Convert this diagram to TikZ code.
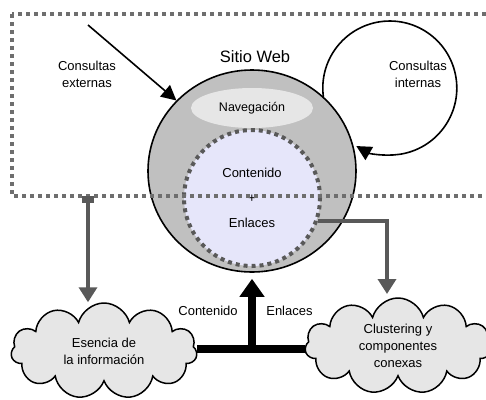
\documentclass[tikz,border=0pt]{standalone}
\usepackage{fontspec}
\setmainfont{Liberation Sans}
\usetikzlibrary{shapes.geometric,shapes.symbols,arrows.meta}

\definecolor{spheregray}{HTML}{C0C0C0}
\definecolor{navgray}{HTML}{E6E6E6}
\definecolor{lavender}{HTML}{E6E6FA}
\definecolor{darkline}{HTML}{595959}
\definecolor{dashgray}{HTML}{6E6E6E}

\begin{document}
\begin{tikzpicture}[x=1pt,y=-1pt,
    every node/.style={font=\fontsize{13}{17}\selectfont},
    cloudbox/.style={cloud,cloud puffs=11,aspect=2,draw,line width=1.5pt,fill=navgray,
      minimum width=186pt,minimum height=96pt,align=center,inner sep=0pt},
    grayarrow/.style={draw=darkline,line width=3.5pt,-{Triangle[width=18pt,length=15pt]}},
    blackarrow/.style={line width=1.6pt,-{Triangle[width=15pt,length=15pt]}}]
    \clip (0,0) rectangle (486,399);
    % sitio web
    \node[ellipse,draw,line width=1.6pt,fill=spheregray,minimum width=208pt,minimum height=202pt] (web) at (252,171) {};
    \node[font=\fontsize{16.5}{18}\selectfont] (title) at (255,57) {Sitio Web};
    \node[ellipse,fill=navgray,minimum width=122pt,minimum height=40pt,font=\fontsize{12.5}{15}\selectfont] (nav) at (252,108) {Navegaci\'on};
    \node[circle,fill=lavender,draw=darkline,line width=4pt,dash pattern=on 4pt off 4pt,
      minimum width=136pt,align=center] (cont) at (252,198) {Contenido\\[8pt]+\\[8pt]Enlaces};
    % consultas
    \node[circle,minimum size=134pt] (intq) at (390,88) {};
    \draw[blackarrow] (intq.188) arc[start angle=172,delta angle=308,radius=67];
    \node[align=center] (intlbl) at (418,74) {Consultas\\internas};
    \node[align=center] (extlbl) at (87,74) {Consultas\\externas};
    \coordinate (ext) at (88,25);
    \draw[blackarrow] (ext) -- (web.137);
    % marco punteado
    \draw[dashgray,line width=3.5pt,dash pattern=on 4pt off 4pt] (12,14) rectangle (495,196);
    % nubes
    \node[cloudbox] (esencia) at (104,351) {Esencia de\\la informaci\'on};
    \node[cloudbox] (clus) at (398,346) {Clustering y\\componentes\\conexas};
    \coordinate (dl) at (88,196);
    \draw[grayarrow,{Square[width=12pt,length=7pt]}-{Triangle[width=18pt,length=15pt]}] (dl) -- (dl |- esencia.north);
    \coordinate (dr) at (387,294);
    \draw[grayarrow] (cont.-19) -| (dr);
    \coordinate (up) at (252,349);
    \draw[line width=8pt] (esencia.east |- up) -- (clus.west |- up);
    \draw[line width=8pt,-{Triangle[width=24pt,length=18pt]},shorten >=6pt] (up) -- (web.south)
      node[pos=.5,left=7pt] (lcont) {Contenido}
      node[pos=.5,right=7pt] (lenl) {Enlaces};
\end{tikzpicture}
\end{document}
